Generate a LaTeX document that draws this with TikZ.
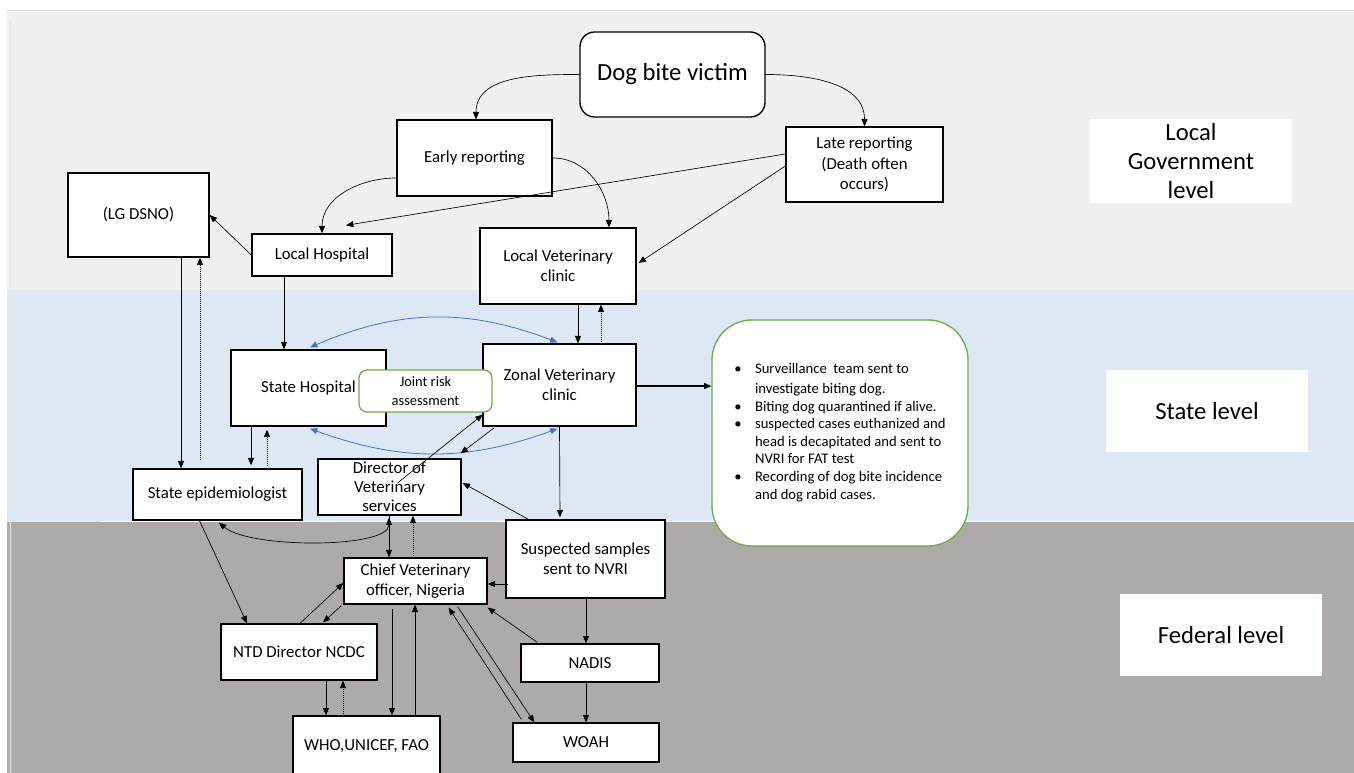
\documentclass[tikz,border=0pt]{standalone}
\usepackage{fontspec}
\setmainfont{Carlito}
\usetikzlibrary{arrows.meta,calc}
\definecolor{lgband}{HTML}{F0F0F0}
\definecolor{stband}{HTML}{DDE8F4}
\definecolor{fdband}{HTML}{AEAAAA}
\definecolor{grn}{HTML}{70AD47}
\definecolor{blu}{HTML}{4472C4}
\tikzset{
 bx/.style={draw=black, line width=1pt, fill=white, align=center, inner sep=2pt, font=\fontsize{12.6}{15.2}\selectfont},
 lvl/.style={fill=white, align=center, font=\fontsize{18.5}{22}\selectfont},
 arr/.style={-{Triangle[length=5.5pt,width=4.5pt]}, line width=0.5pt},
 darr/.style={arr, densely dotted},
 arrtwo/.style={{Triangle[length=5.5pt,width=4.5pt]}-{Triangle[length=5.5pt,width=4.5pt]}, line width=0.5pt},
 barr/.style={{Triangle[length=5.5pt,width=4.5pt]}-{Triangle[length=5.5pt,width=4.5pt]}, draw=blu, line width=0.6pt},
}
\begin{document}
\begin{tikzpicture}[x=0.75pt,y=-0.75pt]
\useasboundingbox (0,0) rectangle (1354,773);
% bands
\fill[white] (0,0) rectangle (1354,773);
\fill[lgband] (7,10) rectangle (1354,290);
\fill[stband] (7,290) rectangle (1354,522);
\fill[fdband] (7,522) rectangle (1354,773);
\draw[black!12, line width=1pt] (7,10.5) -- (1354,10.5);
\draw[black!10, line width=0.6pt] (10,20) -- (10,773);
\draw[white, line width=0.6pt] (100,521.5) -- (1354,521.5);

% nodes
\node[bx, rounded corners=11pt, font=\fontsize{18.5}{22}\selectfont, minimum width=138.75pt, minimum height=63.75pt] (dog) at (672.5,74.5) {Dog bite victim};
\node[bx, minimum width=116.25pt, minimum height=57pt] (early) at (474.5,158) {Early reporting};
\node[bx, minimum width=117.75pt, minimum height=56.25pt] (late) at (864.5,164.5) {Late reporting\\(Death often\\occurs)};
\node[lvl, minimum width=151.5pt, minimum height=61.5pt] (lgl) at (1191,161) {Local\\Government\\level};
\node[bx, minimum width=105.75pt, minimum height=63pt] (dsno) at (138.5,215) {(LG DSNO)};
\node[bx, minimum width=105pt, minimum height=31.5pt] (lhosp) at (322,255) {Local Hospital};
\node[bx, minimum width=117pt, minimum height=57pt] (lvet) at (558,266) {Local Veterinary\\clinic};
\node[bx, minimum width=116.25pt, minimum height=57pt] (shosp) at (308.5,388) {State Hospital};
\node[bx, minimum width=114.75pt, minimum height=61.5pt] (zonal) at (559.5,385) {Zonal Veterinary\\clinic};
\node[bx, draw=grn, rounded corners=6pt, font=\fontsize{10.8}{14.2}\selectfont, minimum width=99.75pt, minimum height=31.5pt] (joint) at (425.5,391) {Joint risk\\assessment};
\node[bx, draw=grn, rounded corners=30pt, minimum width=192pt, minimum height=169.5pt] (bul) at (840,433) {{\fontsize{11}{13.2}\selectfont\begin{tabular}{@{}l@{\hspace{10pt}}l@{}}
\textbullet & Surveillance~ team sent to\\[1.5pt]
 & investigate biting dog.\\
\textbullet & Biting dog quarantined if alive.\\
\textbullet & suspected cases euthanized and\\
 & head is decapitated and sent to\\
 & NVRI for FAT test\\
\textbullet & Recording of dog bite incidence\\
 & and dog rabid cases.
\end{tabular}}};
\node[lvl, minimum width=151.5pt, minimum height=61.5pt] (stl) at (1207,411) {State level};
\node[bx, minimum width=126.75pt, minimum height=38.25pt] (sepi) at (217.5,494.5) {State epidemiologist};
\node[bx, font=\fontsize{12.6}{14.4}\selectfont, minimum width=107.25pt, minimum height=42pt] (dir) at (389.5,487) {Director of\\Veterinary\\services};
\node[bx, minimum width=119.25pt, minimum height=58.5pt] (susp) at (585.5,559) {Suspected samples\\sent to NVRI};
\node[bx, minimum width=107.25pt, minimum height=34.5pt] (chief) at (415.5,581) {Chief Veterinary\\officer, Nigeria};
\node[bx, minimum width=117pt, minimum height=42pt] (ntd) at (299,652) {NTD Director NCDC};
\node[bx, minimum width=103.5pt, minimum height=28.5pt] (nadis) at (590,663) {NADIS};
\node[bx, minimum width=109.5pt, minimum height=29.25pt] (woah) at (586,742.5) {WOAH};
\node[bx, minimum width=110.25pt, minimum height=45pt] (who) at (366.5,746) {WHO,UNICEF, FAO};
\node[lvl, minimum width=151.5pt, minimum height=61.5pt] (fdl) at (1221,635) {Federal level};

% connectors
\draw[arr] (dog.west) to[out=180,in=90] ($(early.north)+(1.5,0)$);
\draw[arr] (dog.east) to[out=0,in=90] (late.north);
\draw[arr] ($(early.west)+(0,20)$) to[out=180,in=90] (lhosp.north);
\draw[arr] (early.east) to[out=0,in=90] ($(lvet.north)+(51,0)$);
\draw[arr] ($(late.west)+(0,-10.5)$) -- ($(lhosp.north)+(24,-8)$);
\draw[arr] ($(late.west)+(0,1.5)$) -- ($(lvet.east)+(2,-3)$);
\draw[arr] (lhosp.west) -- (dsno.east);
\draw[arr] ($(dsno.south)+(42.5,0)$) -- ($(sepi.north)+(-36.5,0)$);
\draw[darr] ($(sepi.north)+(-17.5,-9)$) -- ($(dsno.south)+(61.5,0)$);
\draw[arr] ($(lhosp.south)+(-38,0)$) -- ($(shosp.north)+(-24.5,0)$);
\draw[arr] ($(lvet.south)+(20,0)$) -- ($(zonal.north)+(18.5,0)$);
\draw[darr] ($(zonal.north)+(41.5,0)$) -- ($(lvet.south)+(43,0)$);
\draw[barr] ($(shosp.north)+(1.5,-2)$) to[bend left=22] ($(zonal.north)+(-2,-1)$);
\draw[barr] ($(shosp.south)+(1.5,2)$) to[bend right=20] ($(zonal.south)+(-2,2)$);
\draw[arr] ($(shosp.south)+(-57.5,0)$) -- ($(sepi.north)+(33.5,-3)$);
\draw[darr] ($(sepi.north)+(49.5,-3)$) -- ($(shosp.south)+(-41.5,3)$);
\draw[arr] ($(dir.center)+(8,-4)$) -- ($(joint.south east)+(-10,2)$);
\draw[arr] ($(zonal.south west)+(12,1)$) -- ($(dir.north east)+(-1,-5)$);
\draw[arr] (zonal.south) -- ($(susp.north)+(-25.5,-2)$);
\draw[arr] ($(susp.north west)+(23,0)$) -- ($(dir.east)+(1,-4)$);
\draw[arr, line width=1.6pt] ($(zonal.east)+(0,1)$) -- ($(bul.west)+(0,-47)$);
\draw[arr] ($(sepi.south)+(-18,0)$) -- ($(ntd.north)+(-52,0)$);
\draw[arr] ($(dir.south)+(-0.5,0)$) -- ($(chief.north)+(-26.5,0)$);
\draw[arrtwo] ($(dir.south)+(-0.5,2)$) .. controls ($(dir.south)+(-0.5,33)$) and ($(sepi.south)+(32.5,28)$) .. ($(sepi.south)+(1.5,2)$);
\draw[darr] ($(chief.north)+(-2.5,0)$) -- ($(dir.south)+(23.5,0)$);
\draw[arr] ($(ntd.north)+(1,0)$) -- ($(chief.west)+(0,2)$);
\draw[arr] ($(chief.south west)+(-2,1)$) -- ($(ntd.north)+(24,-1)$);
\draw[arr] ($(ntd.south)+(27,0)$) -- ($(who.north)+(-40.5,0)$);
\draw[darr] ($(who.north)+(-23.5,0)$) -- ($(ntd.south)+(44,0)$);
\draw[arr] ($(chief.south)+(-23.5,4)$) -- ($(who.north)+(25.5,0)$);
\draw[arr] ($(who.north)+(48.5,0)$) -- ($(chief.south)+(-0.5,0)$);
\draw[arr] ($(susp.west)+(3,25)$) -- ($(chief.east)+(0,3)$);
\draw[arr] ($(nadis.north west)+(17,-1)$) -- ($(chief.south east)+(0,3)$);
\draw[arr] ($(woah.north west)+(9,-3)$) -- ($(chief.south east)+(-39,3)$);
\draw[arr] ($(chief.south east)+(-30,2)$) -- ($(woah.north west)+(22,0)$);
\draw[arr] ($(susp.south)+(0.5,0)$) -- ($(nadis.north)+(-4,0)$);
\draw[arr] ($(nadis.south)+(-4,0)$) -- (woah.north);
\end{tikzpicture}
\end{document}
